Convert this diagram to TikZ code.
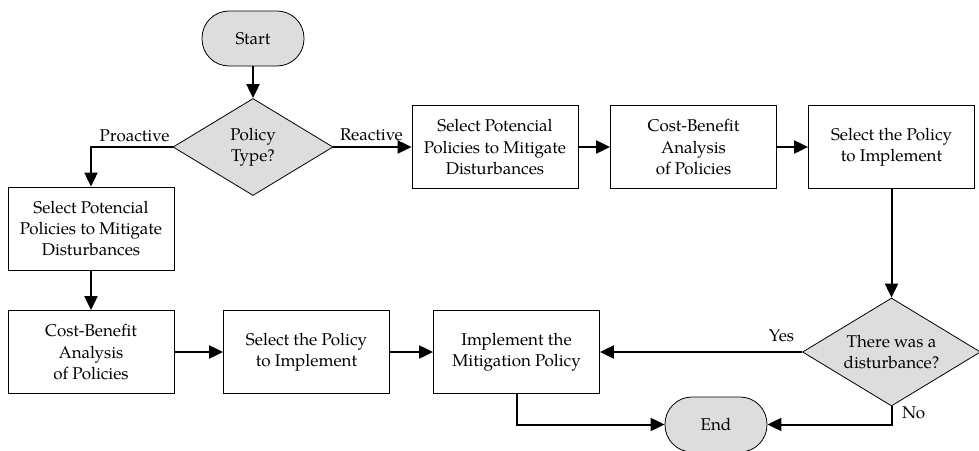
\documentclass[tikz,border=0pt]{standalone}
\usepackage{fontspec}
\setmainfont{texgyrepagella}[Extension=.otf, UprightFont=*-regular, BoldFont=*-bold, ItalicFont=*-italic, BoldItalicFont=*-bolditalic]
\usetikzlibrary{arrows.meta, shapes.geometric}
\definecolor{shade}{RGB}{221,221,221}
\begin{document}
\begin{tikzpicture}[x=1pt, y=-1pt,
  every node/.style={font=\fontsize{17}{21.3}\selectfont},
  box/.style={draw, line width=0.8pt, fill=white, minimum width=166pt, minimum height=83pt, inner sep=0pt, align=center},
  term/.style={draw, line width=0.8pt, fill=shade, minimum width=102pt, minimum height=55pt, rounded corners=27pt, inner sep=0pt},
  decision/.style={draw, diamond, line width=0.8pt, fill=shade, aspect=1.65, inner sep=0pt, align=center},
  conn/.style={line width=2pt, -{Triangle[length=14pt, width=13pt]}},
  lbl/.style={anchor=base, inner sep=0pt}
]
\useasboundingbox (0,0) rectangle (979,450);
\clip (0,0) rectangle (979,450);

\node[term] (start) at (253,38.5) {Start};
\node[decision, minimum width=160pt, minimum height=97pt] (d1) at (253,147) {Policy\\Type?};
\node[box] (r1) at (495,147) {Select Potencial\\Policies to Mitigate\\Disturbances};
\node[box] (r2) at (693.5,147) {Cost-Benefit\\Analysis\\of Policies};
\node[box] (r3) at (891.5,147) {Select the Policy\\to Implement};
\node[box] (l1) at (91,228.5) {Select Potencial\\Policies to Mitigate\\Disturbances};
\node[box] (l2) at (91,352) {Cost-Benefit\\Analysis\\of Policies};
\node[box] (l3) at (306.5,352) {Select the Policy\\to Implement};
\node[box] (m) at (516.5,352) {Implement the\\Mitigation Policy};
\node[decision, minimum width=178pt, minimum height=108pt] (d2) at (891.5,352) {There was a\\disturbance?};
\node[term] (end) at (716,424.5) {End};

\node[lbl] (pro) at (134.5,141) {Proactive};
\node[lbl] (rea) at (371.5,140) {Reactive};
\node[lbl] (yes) at (781.5,341) {Yes};
\node[anchor=west, inner sep=0pt] (no) at (902,413) {No};

\draw[conn] (start) -- (d1);
\draw[conn] (d1.west) -| (l1.north);
\draw[conn] (d1) -- (r1);
\draw[conn] (r1) -- (r2);
\draw[conn] (r2) -- (r3);
\draw[conn] (r3) -- (d2);
\draw[conn] (d2) -- (m);
\draw[conn] (d2.south) |- (end.east);
\draw[conn] (m.south) |- (end.west);
\draw[conn] (l1) -- (l2);
\draw[conn] (l2) -- (l3);
\draw[conn] (l3) -- (m);
\end{tikzpicture}
\end{document}
